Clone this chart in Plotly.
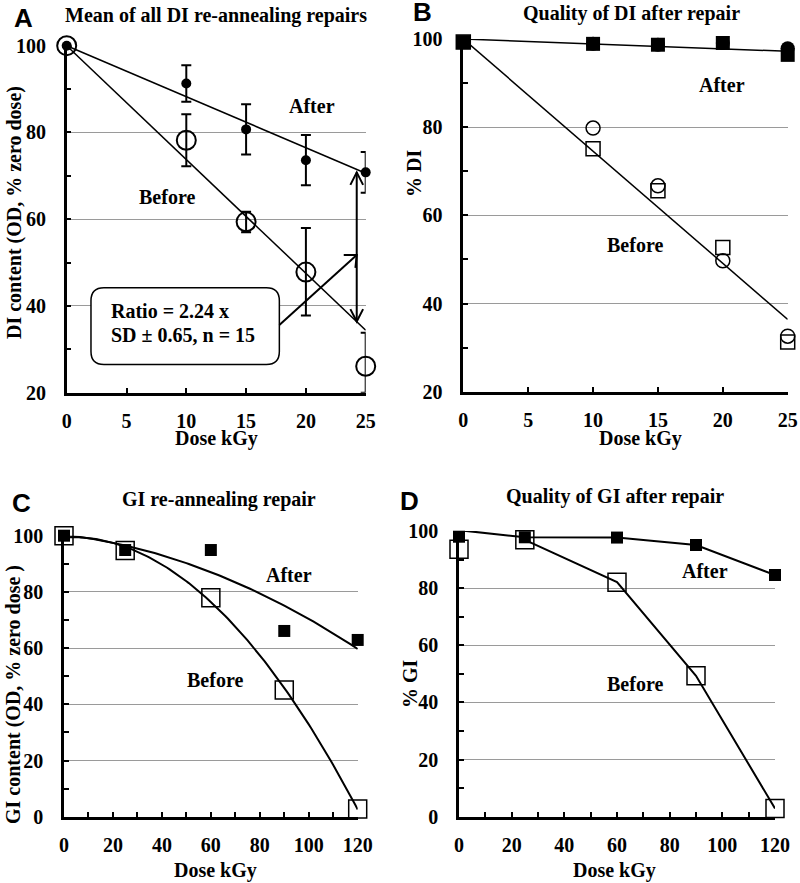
import numpy as np
import plotly.graph_objects as go

W, H = 800, 883
SERIF = "Liberation Serif"
SANS = "Liberation Sans"

# ---------------- Data ----------------
# Panel A: Mean of all DI re-annealing repairs
a_dose = [0, 10, 15, 20, 25]
a_after = [100, 91.3, 80.7, 73.6, 70.8]
a_after_err = [0, 4.2, 5.8, 5.8, 4.7]
a_before = [100, 78.2, 59.4, 47.8, 26.1]
a_before_err_plus = [0, 6.0, 2.3, 10.2, 7.7]
a_before_err_minus = [0, 6.0, 2.4, 10.0, 6.1]
a_fit_dose = [0, 25]
a_after_fit = [100, 70.6]
a_before_fit = [100, 34.4]
a_ratio_lines = ["Ratio = 2.24 x", "SD \u00b1 0.65, n = 15"]

# Panel B: Quality of DI after repair
b_dose = [0, 10, 15, 20, 25]
b_after_sq = [99.3, 98.9, 98.7, 99.1, 96.4]
b_after_ci = [100.2, 98.9, 98.7, 99.1, 97.9]
b_before_sq = [99.3, 75.1, 65.6, 52.7, 31.3]
b_before_ci = [100.2, 79.8, 66.7, 49.7, 32.6]
b_fit_dose = [0, 25]
b_after_fit = [100, 97.2]
b_before_fit = [100, 36.4]

# Panel C: GI re-annealing repair
c_dose = [0, 25, 60, 90, 120]
c_after = [100, 94.9, 94.9, 66.1, 62.9]
c_before = [100, 94.7, 77.9, 45.1, 2.7]

# Panel D: Quality of GI after repair
d_dose = [0, 25, 60, 90, 120]
d_after = [98.0, 97.8, 97.7, 95.1, 84.6]
d_after_line = [100.3, 97.8, 97.7, 95.1, 84.6]
d_before = [93.6, 96.9, 82.1, 49.3, 2.9]

# ---------------- Layout geometry (pixels) ----------------
boxes = {
    "A": dict(x0=66.7, x1=365.7, yt=45.7, yb=392.7, xr=[0, 25], yr=[20, 100]),
    "B": dict(x0=463.3, x1=787.7, yt=39.0, yb=391.7, xr=[0, 25], yr=[20, 100]),
    "C": dict(x0=64.0, x1=357.7, yt=535.7, yb=816.7, xr=[0, 120], yr=[0, 100]),
    "D": dict(x0=459.0, x1=775.0, yt=531.0, yb=816.7, xr=[0, 120], yr=[0, 100]),
}


def px(x):
    return x / W


def py(y):
    return 1 - y / H


fig = go.Figure()
fig.update_layout(template="none")

tickfont = dict(family=SERIF, size=20, color="black", weight="bold")
axis_suffix = {"A": "", "B": "2", "C": "3", "D": "4"}
for key, b in boxes.items():
    s = axis_suffix[key]
    big = b["xr"][1] > 50
    fig.layout["xaxis" + s] = dict(
        domain=[px(b["x0"]), px(b["x1"])], range=b["xr"], anchor="y" + s,
        tickvals=list(range(0, b["xr"][1] + 1, 20 if big else 5)),
        ticks="inside", ticklen=5, tickwidth=2, tickcolor="black",
        minor=dict(dtick=10, ticks="inside", ticklen=5, tickwidth=2, tickcolor="black", showgrid=False) if big else None,
        showline=True, linewidth=2.5, linecolor="black", showgrid=False, zeroline=False,
        tickfont=tickfont, ticklabelstandoff=9, layer="below traces", automargin=False,
    )
    fig.layout["yaxis" + s] = dict(
        domain=[py(b["yb"]), py(b["yt"])], range=b["yr"], anchor="x" + s,
        tickvals=list(range(b["yr"][0], 101, 20)),
        ticks="inside", ticklen=5, tickwidth=2, tickcolor="black",
        minor=dict(dtick=10, ticks="inside", ticklen=5, tickwidth=2, tickcolor="black", showgrid=False),
        showline=True, linewidth=2.5, linecolor="black",
        showgrid=True, gridcolor="#9a9a9a", gridwidth=1, zeroline=False,
        tickfont=tickfont, ticklabelstandoff=14, layer="below traces", automargin=False,
    )

LINE = dict(color="black", width=1.5)

# ---- Panel A ----
fig.add_trace(go.Scatter(x=a_fit_dose, y=a_after_fit, mode="lines", line=LINE,
                         xaxis="x", yaxis="y"))
fig.add_trace(go.Scatter(x=a_fit_dose, y=a_before_fit, mode="lines", line=LINE,
                         xaxis="x", yaxis="y"))
fig.add_trace(go.Scatter(
    x=a_dose, y=a_before, mode="markers", xaxis="x", yaxis="y", cliponaxis=False,
    marker=dict(symbol="circle-open", size=19, color="black", line=dict(width=2, color="black")),
    error_y=dict(type="data", array=a_before_err_plus, arrayminus=a_before_err_minus,
                 symmetric=False, color="black", thickness=2, width=5)))
fig.add_trace(go.Scatter(
    x=a_dose, y=a_after, mode="markers", xaxis="x", yaxis="y", cliponaxis=False,
    marker=dict(symbol="circle", size=10, color="black"),
    error_y=dict(type="data", array=a_after_err, color="black", thickness=2, width=5)))

# ---- Panel B ----
fig.add_trace(go.Scatter(x=b_fit_dose, y=b_after_fit, mode="lines", line=LINE,
                         xaxis="x2", yaxis="y2"))
fig.add_trace(go.Scatter(x=b_fit_dose, y=b_before_fit, mode="lines", line=LINE,
                         xaxis="x2", yaxis="y2"))
fig.add_trace(go.Scatter(x=b_dose, y=b_before_sq, mode="markers", xaxis="x2", yaxis="y2", cliponaxis=False,
                         marker=dict(symbol="square-open", size=14, color="black", line=dict(width=1.5))))
fig.add_trace(go.Scatter(x=b_dose, y=b_before_ci, mode="markers", xaxis="x2", yaxis="y2", cliponaxis=False,
                         marker=dict(symbol="circle-open", size=14, color="black", line=dict(width=1.5))))
fig.add_trace(go.Scatter(x=b_dose, y=b_after_ci, mode="markers", xaxis="x2", yaxis="y2", cliponaxis=False,
                         marker=dict(symbol="circle", size=14, color="black")))
fig.add_trace(go.Scatter(x=b_dose, y=b_after_sq, mode="markers", xaxis="x2", yaxis="y2", cliponaxis=False,
                         marker=dict(symbol="square", size=14, color="black")))

# ---- Panel C (2nd-order polynomial trendlines) ----
c_grid = np.linspace(c_dose[0], c_dose[-1], 121)
c_after_fit = np.polyval(np.polyfit(c_dose, c_after, 2), c_grid)
c_before_fit = np.polyval(np.polyfit(c_dose, c_before, 2), c_grid)
fig.add_trace(go.Scatter(x=c_grid, y=c_after_fit, mode="lines", line=dict(color="black", width=2),
                         xaxis="x3", yaxis="y3"))
fig.add_trace(go.Scatter(x=c_grid, y=c_before_fit, mode="lines", line=dict(color="black", width=2),
                         xaxis="x3", yaxis="y3"))
fig.add_trace(go.Scatter(x=c_dose, y=c_before, mode="markers", xaxis="x3", yaxis="y3", cliponaxis=False,
                         marker=dict(symbol="square-open", size=18, color="black", line=dict(width=1.5))))
fig.add_trace(go.Scatter(x=c_dose, y=c_after, mode="markers", xaxis="x3", yaxis="y3", cliponaxis=False,
                         marker=dict(symbol="square", size=12, color="black")))

# ---- Panel D ----
fig.add_trace(go.Scatter(x=d_dose, y=d_after_line, mode="lines", line=dict(color="black", width=2),
                         xaxis="x4", yaxis="y4"))
fig.add_trace(go.Scatter(x=d_dose[1:], y=d_before[1:], mode="lines", line=dict(color="black", width=2),
                         xaxis="x4", yaxis="y4"))
fig.add_trace(go.Scatter(x=d_dose, y=d_before, mode="markers", xaxis="x4", yaxis="y4", cliponaxis=False,
                         marker=dict(symbol="square-open", size=18, color="black", line=dict(width=1.5))))
fig.add_trace(go.Scatter(x=d_dose, y=d_after, mode="markers", xaxis="x4", yaxis="y4", cliponaxis=False,
                         marker=dict(symbol="square", size=12, color="black")))

# ---------------- Text ----------------
ann = []


def ptext(x, y, s, size=20, family=SERIF, angle=0, xanchor="center", weight="bold"):
    ann.append(dict(x=px(x), y=py(y), xref="paper", yref="paper", text=s, showarrow=False,
                    font=dict(family=family, size=size, color="black", weight=weight),
                    xanchor=xanchor, yanchor="middle", textangle=angle))


def dtext(x, y, s, xr, yr, size=20, xanchor="center"):
    ann.append(dict(x=x, y=y, xref=xr, yref=yr, text=s, showarrow=False,
                    font=dict(family=SERIF, size=size, color="black", weight="bold"),
                    xanchor=xanchor, yanchor="middle"))


# Panel letters
ptext(23, 18, "A", size=26, family=SANS)
ptext(422, 12, "B", size=26, family=SANS)
ptext(21, 503, "C", size=26, family=SANS)
ptext(409, 501, "D", size=26, family=SANS)

# Titles
ptext(216, 16, "Mean of all DI re-annealing repairs")
ptext(631, 13, "Quality of DI after repair")
ptext(219, 499, "GI re-annealing repair")
ptext(615, 497, "Quality of GI after repair")

# Axis titles
ptext(216, 438, "Dose kGy")
ptext(640, 438, "Dose kGy")
ptext(215, 870, "Dose kGy")
ptext(614, 870, "Dose kGy")
ptext(15, 213, "DI content (OD, % zero dose)", angle=-90)
ptext(414, 173, "% DI", angle=-90)
ptext(13, 695, "GI content (OD, % zero dose )", angle=-90)
ptext(410, 683, "% GI", angle=-90)

# Series labels
dtext(20.55, 86.2, "After", "x", "y")
dtext(8.4, 65.2, "Before", "x", "y")
dtext(19.9, 89.5, "After", "x2", "y2")
dtext(13.2, 53.2, "Before", "x2", "y2")
dtext(91.8, 86.0, "After", "x3", "y3")
dtext(61.6, 48.5, "Before", "x3", "y3")
dtext(93.4, 86.1, "After", "x4", "y4")
dtext(66.8, 46.3, "Before", "x4", "y4")

# Callout text in panel A
dtext(3.55, 38.9, a_ratio_lines[0], "x", "y", xanchor="left")
dtext(3.55, 33.3, a_ratio_lines[1], "x", "y", xanchor="left")

fig.update_layout(annotations=ann)

# ---------------- Shapes: callout box and arrows in A ----------------
bA = boxes["A"]
sx = (bA["x1"] - bA["x0"]) / (bA["xr"][1] - bA["xr"][0])
sy = (bA["yb"] - bA["yt"]) / (bA["yr"][1] - bA["yr"][0])


def rounded_rect(x0, y0, x1, y1, r_px):
    rx, ry = r_px / sx, r_px / sy
    return (f"M {x0+rx},{y1} L {x1-rx},{y1} Q {x1},{y1} {x1},{y1-ry} "
            f"L {x1},{y0+ry} Q {x1},{y0} {x1-rx},{y0} L {x0+rx},{y0} "
            f"Q {x0},{y0} {x0},{y0+ry} L {x0},{y1-ry} Q {x0},{y1} {x0+rx},{y1} Z")


def head(xt, yt, xf, yf, L, ang_deg):
    dx, dy = (xt - xf) * sx, (yt - yf) * sy
    n = np.hypot(dx, dy)
    ux, uy = -dx / n, -dy / n
    pts = []
    for sgn in (1, -1):
        a = np.radians(sgn * ang_deg)
        vx = ux * np.cos(a) - uy * np.sin(a)
        vy = ux * np.sin(a) + uy * np.cos(a)
        pts.append((xt + L * vx / sx, yt + L * vy / sy))
    return f"M {pts[0][0]},{pts[0][1]} L {xt},{yt} L {pts[1][0]},{pts[1][1]}"


box_x0, box_x1, box_y0, box_y1 = 2.03, 17.78, 26.5, 44.2
arrow_v = dict(x=24.25, y0=36.4, y1=70.8)
arrow_d = dict(x0=17.78, y0=35.6, x1=24.25, y1=51.75)

shapes = [
    dict(type="path", path=rounded_rect(box_x0, box_y0, box_x1, box_y1, 13), xref="x", yref="y",
         line=dict(color="black", width=1.5), fillcolor="white", layer="between"),
    dict(type="line", x0=arrow_v["x"], x1=arrow_v["x"], y0=arrow_v["y0"], y1=arrow_v["y1"],
         xref="x", yref="y", line=dict(color="black", width=2)),
    dict(type="path", path=head(arrow_v["x"], arrow_v["y1"], arrow_v["x"], arrow_v["y0"], 14, 27),
         xref="x", yref="y", line=dict(color="black", width=2)),
    dict(type="path", path=head(arrow_v["x"], arrow_v["y0"], arrow_v["x"], arrow_v["y1"], 14, 27),
         xref="x", yref="y", line=dict(color="black", width=2)),
    dict(type="line", x0=arrow_d["x0"], x1=arrow_d["x1"], y0=arrow_d["y0"], y1=arrow_d["y1"],
         xref="x", yref="y", line=dict(color="black", width=2)),
    dict(type="path", path=head(arrow_d["x1"], arrow_d["y1"], arrow_d["x0"], arrow_d["y0"], 13, 42),
         xref="x", yref="y", line=dict(color="black", width=2)),
]
fig.update_layout(shapes=shapes)

fig.update_layout(width=W, height=H, margin=dict(l=0, r=0, t=0, b=0),
                  paper_bgcolor="white", plot_bgcolor="white", showlegend=False)

fig.write_html("out.html", config={"displayModeBar": False},
               post_script="document.body.style.margin='0';document.body.style.overflow='hidden';")
